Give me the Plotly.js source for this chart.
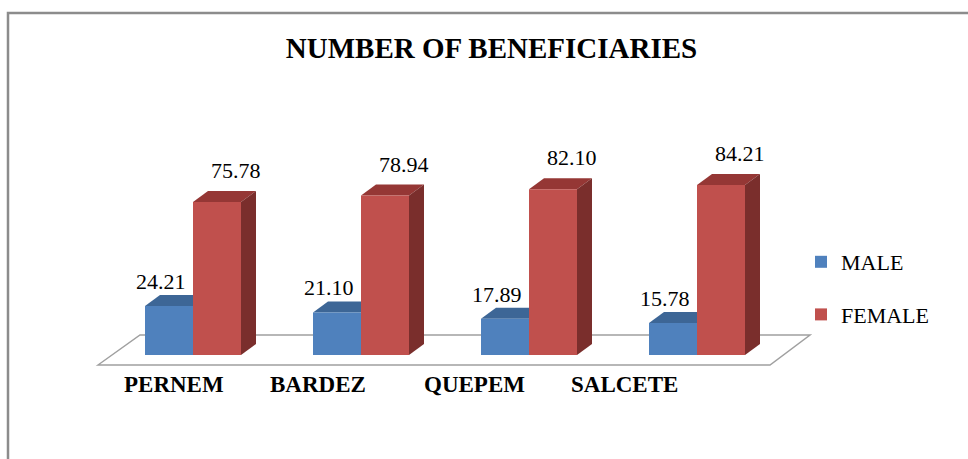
<!DOCTYPE html>
<html>
<head>
<meta charset="utf-8">
<script src="https://cdn.plot.ly/plotly-3.0.1.min.js"></script>
<style>html,body{margin:0;padding:0;background:#fff;}#chart{width:968px;height:459px;}</style>
</head>
<body>
<div id="chart"></div>
<script>
// ---- data ----
const categories = ['PERNEM', 'BARDEZ', 'QUEPEM', 'SALCETE'];
const maleValues = [24.21, 21.10, 17.89, 15.78];
const femaleValues = [75.78, 78.94, 82.10, 84.21];
const seriesNames = ['MALE', 'FEMALE'];
const chartTitle = 'NUMBER OF BENEFICIARIES';

// ---- layout constants ----
const W = 968, H = 459;
const ML = 109, MR = 187, MT = 153, MB = 104;
const plotW = W - ML - MR, plotH = H - MT - MB;
const XR = [-0.5, categories.length - 0.5];
const YR = [0, 100];
const BARGAP = 0.4286;
const barW = (1 - BARGAP) / 2;
const DX_PX = 15, DY_PX = 11;
const dx = DX_PX * (XR[1] - XR[0]) / plotW;
const dy = DY_PX * (YR[1] - YR[0]) / plotH;
const SERIF = 'Liberation Serif';

const colors = {
  male: {front: '#4F81BD', top: '#3D6696', side: '#2F5283'},
  female: {front: '#C0504D', top: '#953735', side: '#7A2E2C'}
};

// pixel -> paper helpers (for decorations only)
const px = p => (p - ML) / plotW;
const py = p => (H - MB - p) / plotH;

const xIdx = categories.map((_, i) => i);

const traces = [
  {type: 'bar', name: seriesNames[0], x: xIdx, y: maleValues,
   marker: {color: colors.male.front}, legendgroup: 'm', hoverinfo: 'skip'},
  {type: 'bar', name: seriesNames[1], x: xIdx, y: femaleValues,
   marker: {color: colors.female.front}, legendgroup: 'f', hoverinfo: 'skip'}
];

const shapes = [];
// frame
shapes.push({type: 'path', xref: 'paper', yref: 'paper', layer: 'below',
  path: `M ${px(8)},${py(470)} L ${px(8)},${py(13)} L ${px(975)},${py(13)}`,
  line: {color: '#8c8c8c', width: 2.5}});
// floor
shapes.push({type: 'path', xref: 'paper', yref: 'paper', layer: 'below',
  path: `M ${px(98)},${py(365)} L ${px(140)},${py(335)} L ${px(810)},${py(335)} L ${px(770)},${py(365)} Z`,
  fillcolor: '#ffffff', line: {color: '#a0a0a0', width: 1.5}});

function addFaces(values, offset, col) {
  values.forEach((v, i) => {
    const c = i + offset;
    const l = c - barW / 2, r = c + barW / 2;
    shapes.push({type: 'path', xref: 'x', yref: 'y', layer: 'below',
      path: `M ${l},${v} L ${r},${v} L ${r + dx},${v + dy} L ${l + dx},${v + dy} Z`,
      fillcolor: col.top, line: {width: 0}});
    shapes.push({type: 'path', xref: 'x', yref: 'y', layer: 'below',
      path: `M ${r},0 L ${r},${v} L ${r + dx},${v + dy} L ${r + dx},${dy} Z`,
      fillcolor: col.side, line: {width: 0}});
  });
}
addFaces(maleValues, -barW / 2, colors.male);
addFaces(femaleValues, barW / 2, colors.female);

const annotations = [];
maleValues.forEach((v, i) => {
  annotations.push({xref: 'x', yref: 'y', x: i - barW / 2, y: v, text: v.toFixed(2),
    showarrow: false, xanchor: 'center', yanchor: 'bottom', xshift: -8, yshift: 10,
    font: {family: SERIF, size: 22, color: '#000'}});
});
femaleValues.forEach((v, i) => {
  annotations.push({xref: 'x', yref: 'y', x: i + barW / 2, y: v, text: v.toFixed(2),
    showarrow: false, xanchor: 'center', yanchor: 'bottom', xshift: 19, yshift: 17,
    font: {family: SERIF, size: 22, color: '#000'}});
});
// category labels
const catLabelPx = [173.5, 317.5, 474.5, 624];
categories.forEach((c, i) => {
  annotations.push({xref: 'paper', yref: 'paper', x: px(catLabelPx[i]), y: py(384),
    text: '<b>' + c + '</b>', showarrow: false, xanchor: 'center', yanchor: 'middle',
    font: {family: SERIF, size: 23, color: '#000'}});
});

const layout = {
  width: W, height: H,
  margin: {l: ML, r: MR, t: MT, b: MB, pad: 0},
  paper_bgcolor: '#fff', plot_bgcolor: 'rgba(0,0,0,0)',
  font: {family: SERIF},
  title: {text: '<b>' + chartTitle + '</b>', x: 491.5 / W, xref: 'container', xanchor: 'center',
    y: 1 - 48 / H, yref: 'container', yanchor: 'middle',
    font: {family: SERIF, size: 29, color: '#000'}},
  barmode: 'group', bargap: BARGAP, bargroupgap: 0,
  xaxis: {range: XR, visible: false, fixedrange: true},
  yaxis: {range: YR, visible: false, fixedrange: true},
  showlegend: true,
  legend: {x: px(801), xanchor: 'left', y: py(241), yanchor: 'top',
    traceorder: 'grouped', tracegroupgap: 21,
    font: {family: SERIF, size: 22, color: '#000'}, bgcolor: 'rgba(0,0,0,0)'},
  shapes: shapes,
  annotations: annotations
};

Plotly.newPlot('chart', traces, layout, {staticPlot: true, displayModeBar: false});
</script>
</body>
</html>
